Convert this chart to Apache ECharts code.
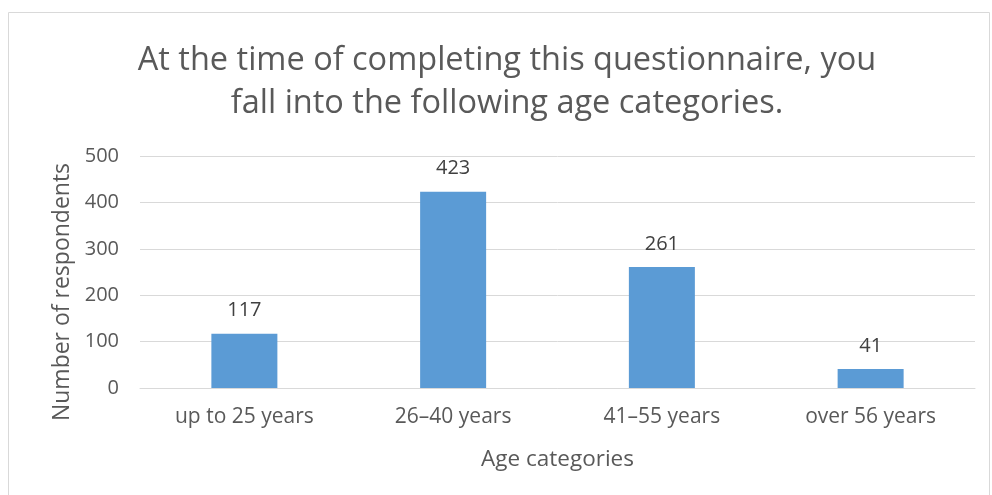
<!DOCTYPE html>
<html><head><meta charset="utf-8">
<script src="https://cdn.jsdelivr.net/npm/echarts@6/dist/echarts.min.js"></script>
<style>html,body{margin:0;padding:0;background:#fff}#c{width:992px;height:495px}</style>
</head><body><div id="c"></div>
<script>
var categories = ['up to 25 years', '26–40 years', '41–55 years', 'over 56 years'];
var values = [117, 423, 261, 41];
var titleText = 'At the time of completing this questionnaire, you\nfall into the following age categories.';
var yAxisName = 'Number of respondents';
var xAxisName = 'Age categories';

var FONT = 'Open Sans';
var TXT = '#595959';
var chart = echarts.init(document.getElementById('c'), null, {renderer: 'canvas'});
chart.setOption({
  animation: false,
  textStyle: {fontFamily: FONT},
  graphic: [{type: 'rect', shape: {x: 8.5, y: 12.5, width: 981, height: 495}, style: {fill: 'none', stroke: '#d9d9d9', lineWidth: 1}}],
  title: {
    text: titleText, left: 502, top: 34, textAlign: 'center',
    textStyle: {fontFamily: FONT, fontSize: 32.5, fontWeight: 'normal', color: TXT, lineHeight: 43}
  },
  grid: {left: 140, right: 17, top: 156, bottom: 107, containLabel: false},
  xAxis: {
    type: 'category', data: categories,
    name: xAxisName, nameLocation: 'middle', nameGap: 60,
    nameTextStyle: {fontFamily: FONT, fontSize: 22.5, color: TXT},
    axisLine: {show: true, lineStyle: {color: '#d9d9d9', width: 1}},
    axisTick: {show: false},
    axisLabel: {fontFamily: FONT, fontSize: 21, color: TXT, margin: 19}
  },
  yAxis: {
    type: 'value', min: 0, max: 500, interval: 100,
    name: yAxisName, nameLocation: 'middle', nameGap: 66, nameRotate: 90,
    nameTextStyle: {fontFamily: FONT, fontSize: 23, color: TXT, padding: [0, 40, 0, 0]},
    axisLine: {show: false}, axisTick: {show: false},
    axisLabel: {fontFamily: FONT, fontSize: 20, color: TXT, margin: 21},
    splitLine: {lineStyle: {color: '#d9d9d9', width: 1}}
  },
  series: [{
    type: 'bar', data: values, barWidth: 66,
    itemStyle: {color: '#5B9BD5'},
    label: {show: true, position: 'top', distance: 13, fontFamily: FONT, fontSize: 20, color: '#404040'}
  }]
});
</script></body></html>
